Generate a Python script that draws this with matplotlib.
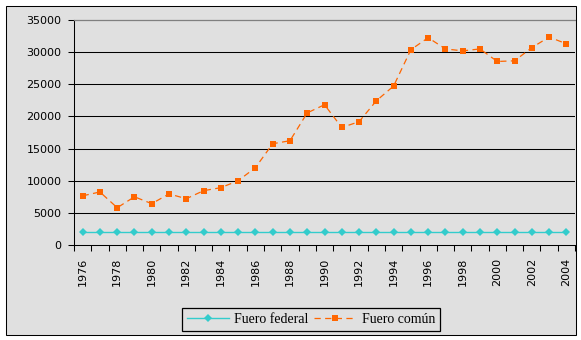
import matplotlib
matplotlib.use("Agg")
import matplotlib.pyplot as plt
from matplotlib.patches import Rectangle
from matplotlib.ticker import FixedLocator, NullFormatter

years = list(range(1976, 2005))
fuero_federal = [2000, 2000, 2000, 2000, 2000, 2000, 2000, 2000, 2000, 2000,
                 2000, 2000, 2000, 2000, 2000, 2000, 2000, 2000, 2000, 2000,
                 2000, 2000, 2000, 2000, 2000, 2000, 2000, 2000, 2000]
fuero_comun = [7650, 8250, 5800, 7500, 6430, 7950, 7200, 8450, 8920, 10000,
               12030, 15750, 16220, 20550, 21820, 18280, 19180, 22430, 24730, 30380,
               32250, 30500, 30200, 30500, 28550, 28650, 30700, 32350, 31300]
y_ticks = [0, 5000, 10000, 15000, 20000, 25000, 30000, 35000]

BG = "#E0E0E0"
ORANGE = "#FF6600"
CYAN = "#33CCCC"

W, H = 581, 340
fig = plt.figure(figsize=(W / 100, H / 100), dpi=100)
fig.patch.set_facecolor("white")

# chart frame: grey fill behind, black outline on top
fig.patches.append(Rectangle((5.5 / W, 5.5 / H), 570 / W, 329 / H,
                             transform=fig.transFigure, facecolor=BG,
                             edgecolor="none", zorder=-5))
fig.patches.append(Rectangle((5.5 / W, 5.5 / H), 570 / W, 329 / H,
                             transform=fig.transFigure, facecolor="none",
                             edgecolor="black", linewidth=0.75, zorder=10))

ax = fig.add_axes([74 / W, (H - 245) / H, (575 - 74) / W, 225 / H])
ax.set_facecolor(BG)

x = list(range(len(years)))
ax.plot(x, fuero_federal, color=CYAN, linewidth=1.0, marker="D",
        markersize=4.2, markeredgewidth=0, label="Fuero federal", zorder=3)
ax.plot(x, fuero_comun, color=ORANGE, linewidth=0.9, linestyle=(0, (5, 3.5)),
        marker="s", markersize=5, markeredgewidth=0, label="Fuero común", zorder=4)

ax.set_xlim(-0.5, len(years) - 0.5)
ax.set_ylim(0, 35000)

ax.set_yticks(y_ticks)
ax.set_yticklabels([str(v) for v in y_ticks], fontsize=8, family="DejaVu Sans")
ax.tick_params(axis="y", direction="out", length=4, width=0.75, pad=5, colors="black")
for v in y_ticks[1:-1]:
    ax.axhline(v, color="black", linewidth=0.75, zorder=1)

# category labels every other year, boundary ticks between categories
lab_pos = [i for i, yr in enumerate(years) if yr % 2 == 0]
ax.set_xticks(lab_pos)
ax.set_xticklabels([str(years[i]) for i in lab_pos], rotation=90,
                   fontsize=8, family="DejaVu Sans")
ax.tick_params(axis="x", which="major", length=0, pad=9)
ax.xaxis.set_minor_locator(FixedLocator([i - 0.5 for i in range(len(years) + 1)]))
ax.xaxis.set_minor_formatter(NullFormatter())
ax.tick_params(axis="x", which="minor", direction="out", length=4, width=0.75)

for s in ("left", "bottom"):
    ax.spines[s].set_color("black")
    ax.spines[s].set_linewidth(0.75)
ax.spines["top"].set_color("#808080")
ax.spines["top"].set_linewidth(0.9)
ax.spines["right"].set_visible(False)

leg = fig.legend(loc="center", bbox_to_anchor=(311 / W, (H - 319.5) / H),
                 ncol=2, prop={"family": "Liberation Serif", "size": 10},
                 frameon=True, fancybox=False, edgecolor="black",
                 facecolor=BG, framealpha=1, handlelength=3.0,
                 handletextpad=0.4, columnspacing=0.4, borderpad=0.35,
                 borderaxespad=0)
leg.get_frame().set_linewidth(0.9)

fig.savefig("out.png", dpi=100)
